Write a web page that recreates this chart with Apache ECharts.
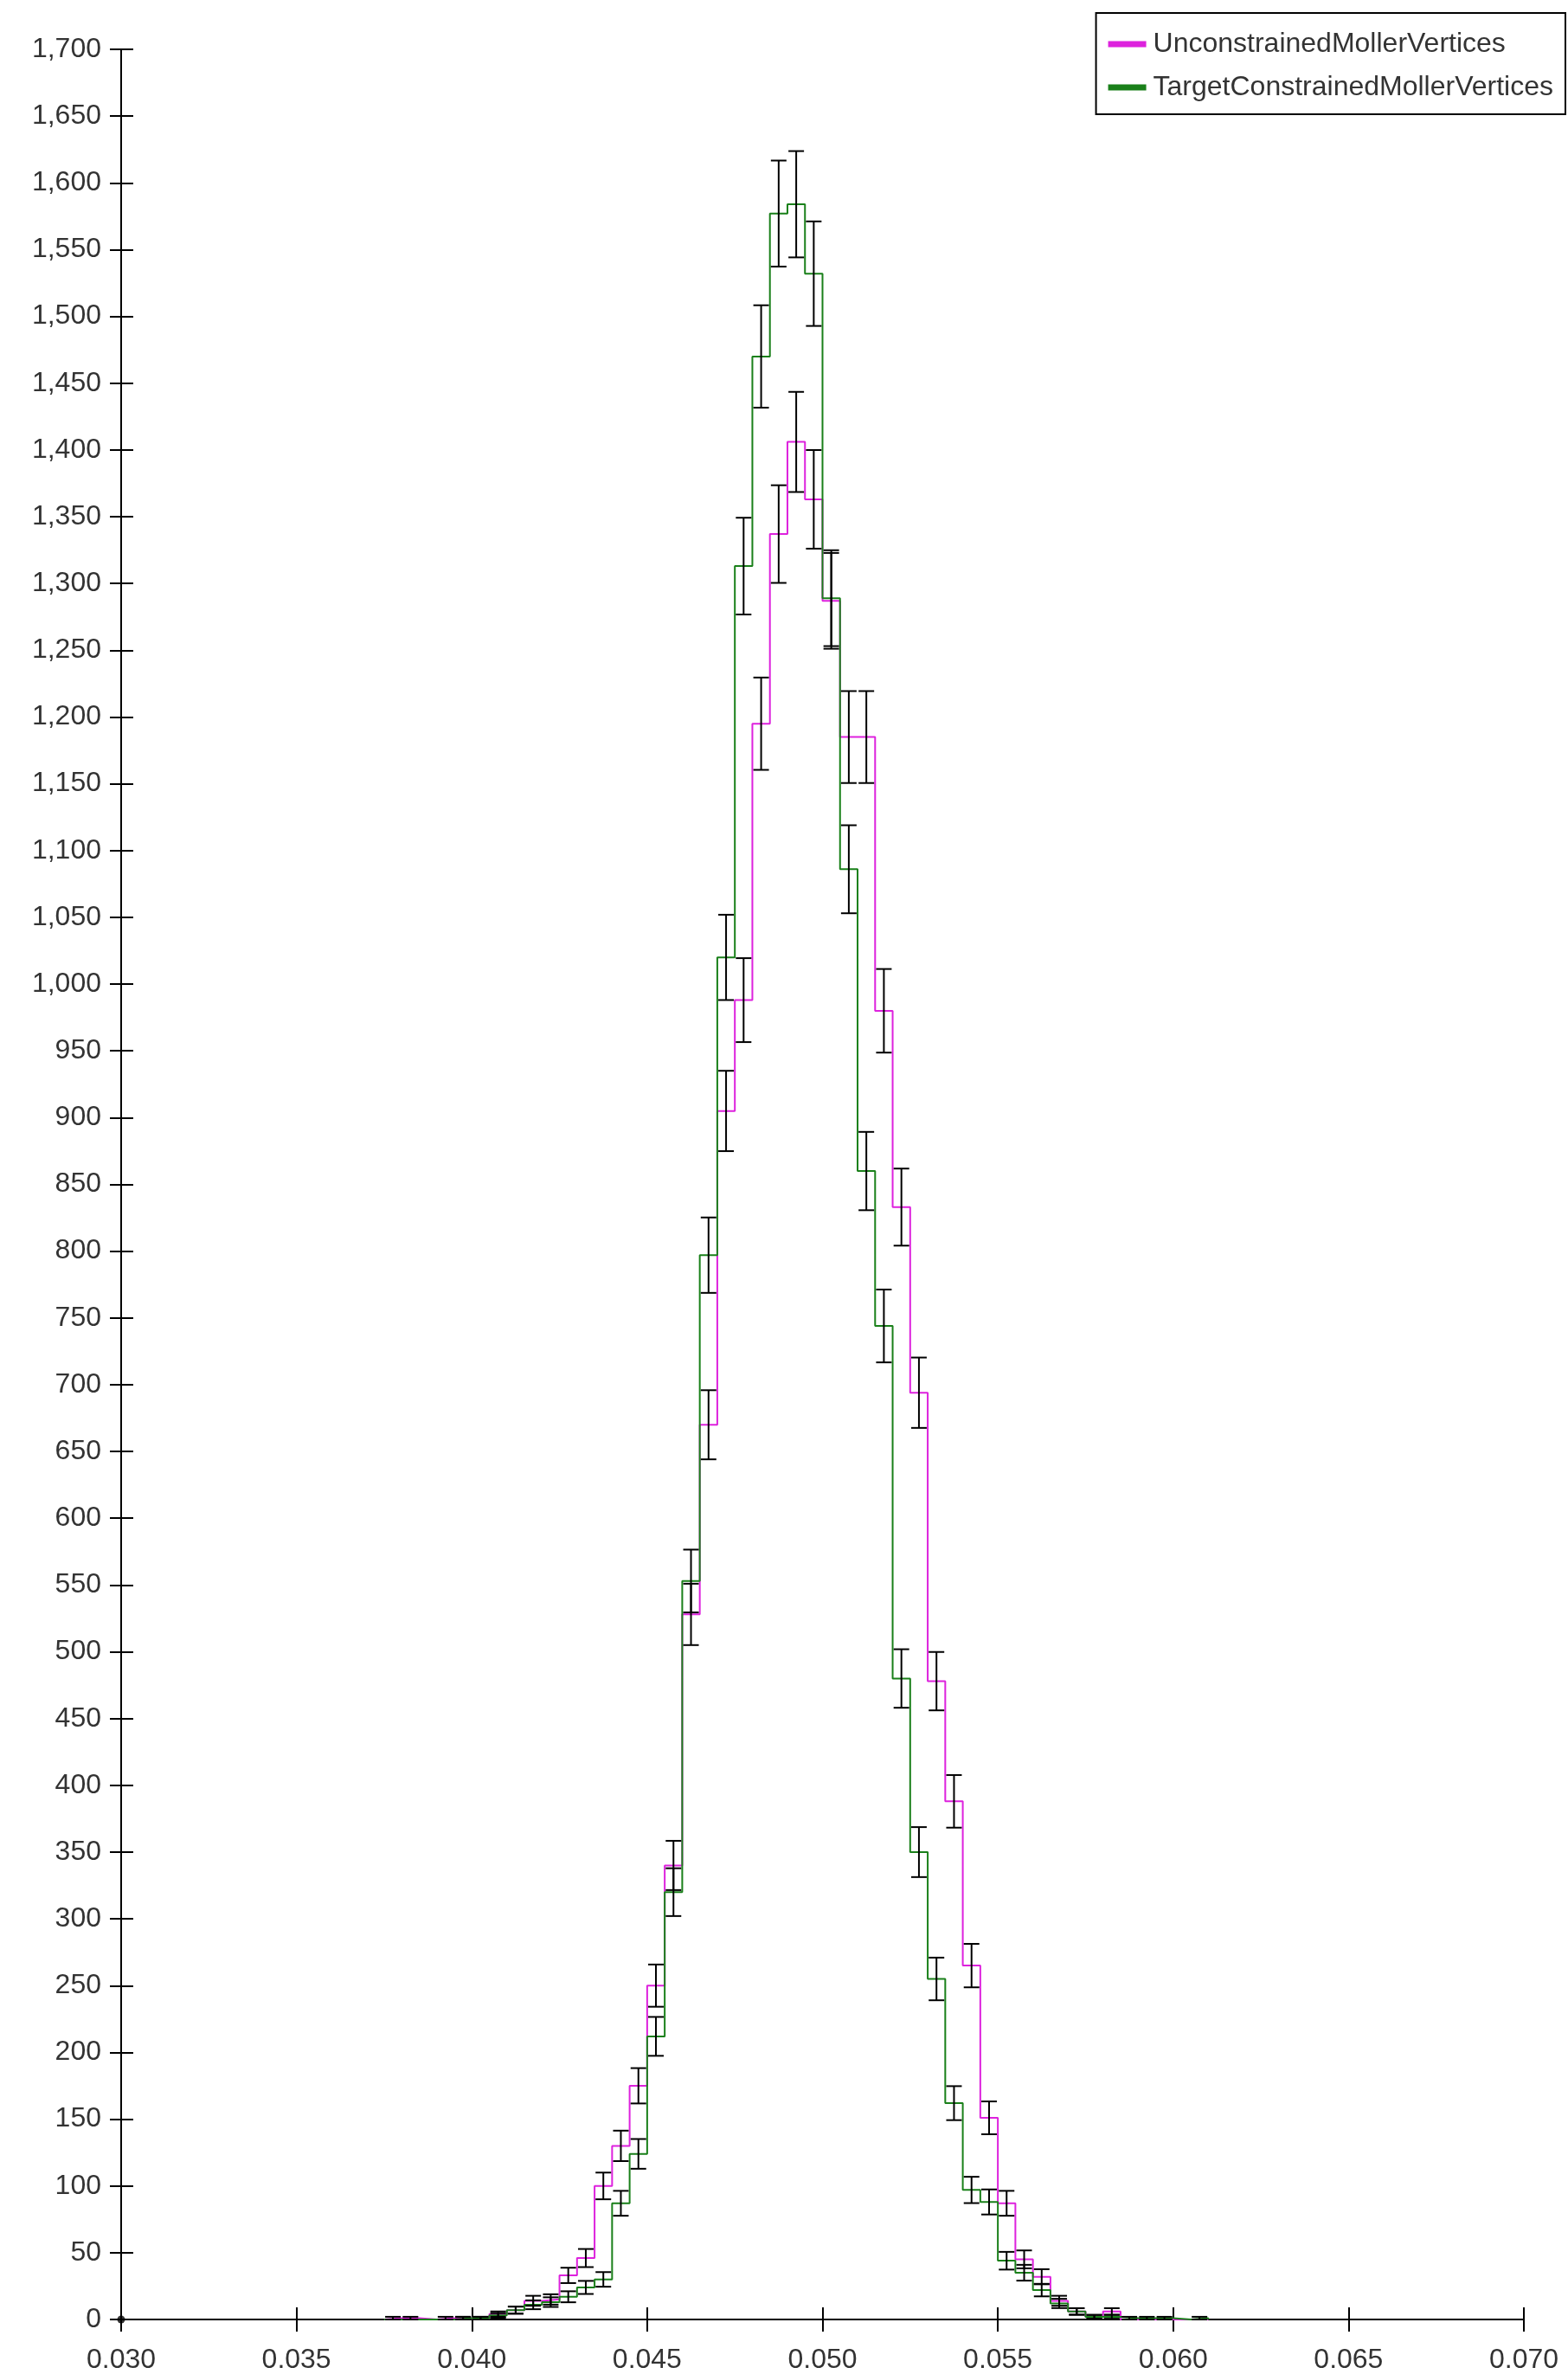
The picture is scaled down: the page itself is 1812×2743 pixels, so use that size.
<!DOCTYPE html>
<html>
<head>
<meta charset="utf-8">
<script src="https://cdn.jsdelivr.net/npm/echarts/dist/echarts.min.js"></script>
<style>
html,body{margin:0;padding:0;background:#ffffff;}
#chart{width:1812px;height:2743px;}
</style>
</head>
<body>
<div id="chart"></div>
<script>
// ---- data ----
const seriesNames = ['UnconstrainedMollerVertices', 'TargetConstrainedMollerVertices'];
const binWidth = 0.0005;
const binLow = [
  0.0375, 0.0380, 0.0385, 0.0390, 0.0395, 0.0400, 0.0405, 0.0410, 0.0415, 0.0420,
  0.0425, 0.0430, 0.0435, 0.0440, 0.0445, 0.0450, 0.0455, 0.0460, 0.0465, 0.0470,
  0.0475, 0.0480, 0.0485, 0.0490, 0.0495, 0.0500, 0.0505, 0.0510, 0.0515, 0.0520,
  0.0525, 0.0530, 0.0535, 0.0540, 0.0545, 0.0550, 0.0555, 0.0560, 0.0565, 0.0570,
  0.0575, 0.0580, 0.0585, 0.0590, 0.0595, 0.0600, 0.0605
];
const unconstrained = [
  1, 1, 0, 1, 1, 1, 4, 7, 14, 15,
  33, 46, 100, 130, 175, 250, 340, 528, 670, 905,
  988, 1195, 1337, 1406, 1363, 1287, 1185, 1185, 980, 833,
  694, 478, 388, 265, 151, 87, 45, 32, 14, 6,
  2, 6, 0, 0, 0, 0, 0
];
const targetConstrained = [
  0, 0, 0, 0, 1, 1, 3, 7, 11, 13,
  17, 24, 30, 87, 124, 212, 320, 553, 797, 1020,
  1313, 1470, 1577, 1584, 1532, 1289, 1086, 860, 744, 480,
  350, 255, 162, 97, 88, 44, 35, 22, 12, 6,
  2, 2, 1, 1, 1, 0, 1
];
const xTickLabels = ['0.030','0.035','0.040','0.045','0.050','0.055','0.060','0.065','0.070'];
const yMin = 0, yMax = 1700, yStep = 50;

// ---- styles ----
const PINK = '#dd22dd';
const GREEN = '#1a801a';
const FONT = "'Liberation Sans', Arial, sans-serif";
const TXT = '#333333';

const xMin = parseFloat(xTickLabels[0]);
const xMax = parseFloat(xTickLabels[xTickLabels.length - 1]);
const xStep = parseFloat(xTickLabels[1]) - parseFloat(xTickLabels[0]);

function stepData(vals) {
  const d = [[binLow[0], 0]];
  for (let i = 0; i < binLow.length; i++) d.push([binLow[i], vals[i]]);
  const lastHigh = binLow[binLow.length - 1] + binWidth;
  d.push([lastHigh, vals[vals.length - 1]]);
  d.push([lastHigh, 0]);
  return d;
}
function errData(vals) {
  const d = [];
  for (let i = 0; i < binLow.length; i++) {
    if (vals[i] > 0) d.push([binLow[i] + binWidth / 2, vals[i], Math.sqrt(vals[i])]);
  }
  return d;
}
const errorPoints = errData(unconstrained).concat(errData(targetConstrained));

function renderErr(params, api) {
  const x = api.value(0), v = api.value(1), e = api.value(2);
  const a = api.coord([x, v + e]);
  const b = api.coord([x, v - e]);
  const h = 9;
  const st = { stroke: '#000000', lineWidth: 2, fill: null };
  return {
    type: 'group',
    children: [
      { type: 'line', shape: { x1: a[0], y1: a[1], x2: b[0], y2: b[1] }, style: st },
      { type: 'line', shape: { x1: a[0] - h, y1: a[1], x2: a[0] + h, y2: a[1] }, style: st },
      { type: 'line', shape: { x1: b[0] - h, y1: b[1], x2: b[0] + h, y2: b[1] }, style: st }
    ]
  };
}

const axisLineStyle = { show: true, lineStyle: { color: '#000000', width: 2 } };

const chart = echarts.init(document.getElementById('chart'), null, { renderer: 'canvas' });
chart.setOption({
  animation: false,
  backgroundColor: '#ffffff',
  grid: { left: 140, right: 51, top: 57, bottom: 62, containLabel: false },
  legend: {
    data: seriesNames,
    orient: 'vertical',
    right: 3,
    top: 15,
    icon: 'rect',
    itemWidth: 44,
    itemHeight: 7,
    itemGap: 18,
    padding: [20, 14, 15, 14],
    borderColor: '#000000',
    borderWidth: 2,
    backgroundColor: '#ffffff',
    textStyle: { fontFamily: FONT, fontSize: 32, color: TXT, padding: [0, 0, 0, 3] },
    selectedMode: false
  },
  xAxis: [
    {
      type: 'value', position: 'bottom', min: xMin, max: xMax, interval: xStep,
      axisLine: axisLineStyle,
      axisTick: { show: true, inside: false, length: 14, lineStyle: { color: '#000', width: 2 } },
      axisLabel: {
        show: true, margin: 31, fontFamily: FONT, fontSize: 32, color: TXT,
        showMinLabel: true, showMaxLabel: true, hideOverlap: false,
        formatter: function (v) { return v.toFixed(3); }
      },
      splitLine: { show: false }
    },
    {
      type: 'value', position: 'bottom', offset: 0, min: xMin, max: xMax, interval: xStep,
      axisLine: { show: false },
      axisTick: { show: true, inside: true, length: 14, lineStyle: { color: '#000', width: 2 } },
      axisLabel: { show: false },
      splitLine: { show: false }
    }
  ],
  yAxis: [
    {
      type: 'value', position: 'left', min: yMin, max: yMax, interval: yStep,
      axisLine: axisLineStyle,
      axisTick: { show: true, inside: false, length: 13, lineStyle: { color: '#000', width: 2 } },
      axisLabel: {
        show: true, margin: 23, fontFamily: FONT, fontSize: 32, color: TXT,
        showMinLabel: true, showMaxLabel: true, hideOverlap: false,
        formatter: function (v) { return Math.round(v).toLocaleString('en-US'); }
      },
      splitLine: { show: false }
    },
    {
      type: 'value', position: 'left', offset: 0, min: yMin, max: yMax, interval: yStep,
      axisLine: { show: false },
      axisTick: { show: true, inside: true, length: 14, lineStyle: { color: '#000', width: 2 } },
      axisLabel: { show: false },
      splitLine: { show: false }
    }
  ],
  series: [
    {
      name: seriesNames[0], type: 'line', step: 'end', data: stepData(unconstrained),
      xAxisIndex: 0, yAxisIndex: 0,
      color: PINK, itemStyle: { color: PINK },
      symbol: 'none', showSymbol: false,
      lineStyle: { color: PINK, width: 2 }, z: 2, silent: true
    },
    {
      name: seriesNames[1], type: 'line', step: 'end', data: stepData(targetConstrained),
      xAxisIndex: 0, yAxisIndex: 0,
      color: GREEN, itemStyle: { color: GREEN },
      symbol: 'none', showSymbol: false,
      lineStyle: { color: GREEN, width: 2 }, z: 3, silent: true
    },
    {
      name: 'errors', type: 'custom', renderItem: renderErr, data: errorPoints,
      xAxisIndex: 0, yAxisIndex: 0,
      encode: { x: 0, y: 1 }, z: 4, silent: true
    },
    {
      name: 'origin', type: 'scatter', data: [[xMin, yMin]],
      xAxisIndex: 0, yAxisIndex: 0,
      symbol: 'circle', symbolSize: 9, itemStyle: { color: '#000000' }, z: 5, silent: true
    }
  ]
});
</script>
</body>
</html>
